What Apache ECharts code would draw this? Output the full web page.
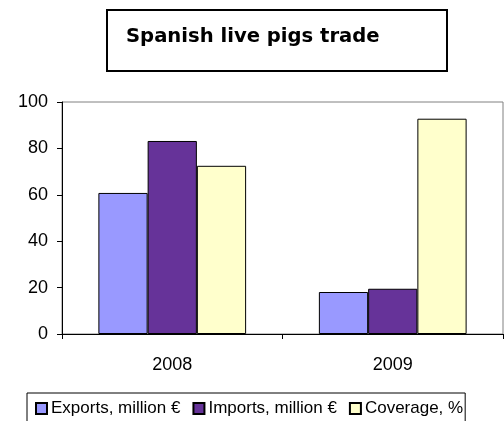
<!DOCTYPE html>
<html>
<head>
<meta charset="utf-8">
<script src="https://cdn.jsdelivr.net/npm/echarts@6/dist/echarts.min.js"></script>
<style>
  html, body { margin: 0; padding: 0; background: #fff; }
  #chart { width: 504px; height: 421px; }
</style>
</head>
<body>
<div id="chart"></div>
<script>
var years = ['2008', '2009'];
var exportsData = [60.8, 18.1];
var importsData = [83.2, 19.5];
var coverageData = [72.5, 92.8];
var seriesNames = ['Exports, million €', 'Imports, million €', 'Coverage, %'];
var seriesColors = ['#9999FF', '#663399', '#FFFFCC'];

var chart = echarts.init(document.getElementById('chart'));

function barSeries(i, data) {
  return {
    name: seriesNames[i],
    type: 'bar',
    data: data,
    barGap: '0%',
    barCategoryGap: '33%',
    itemStyle: {
      color: seriesColors[i],
      borderColor: '#000',
      borderWidth: 1
    },
    emphasis: { disabled: true }
  };
}

var option = {
  animation: false,
  backgroundColor: '#fff',
  title: {
    text: 'Spanish live pigs trade',
    left: 107,
    top: 10,
    padding: [17, 68, 24, 19],
    borderColor: '#000',
    borderWidth: 2,
    textStyle: {
      fontFamily: 'DejaVu Sans',
      fontWeight: 'bold',
      fontSize: 19.6,
      color: '#000'
    }
  },
  legend: {
    left: 27,
    top: 393,
    padding: [7, 2, 14, 8],
    itemGap: 12,
    itemWidth: 11,
    itemHeight: 11,
    icon: 'rect',
    borderColor: '#000',
    borderWidth: 1,
    borderRadius: 0,
    textStyle: {
      fontFamily: 'Liberation Sans',
      fontSize: 17,
      color: '#000',
      padding: [0, 0, 0, -1]
    },
    data: seriesNames
  },
  grid: {
    left: 62,
    right: 1,
    top: 102,
    bottom: 87,
    show: true,
    borderColor: '#808080',
    borderWidth: 1,
    containLabel: false
  },
  xAxis: {
    type: 'category',
    data: years,
    axisLine: { lineStyle: { color: '#000', width: 1 } },
    axisTick: { show: true, length: 5, lineStyle: { color: '#000' } },
    axisLabel: {
      fontFamily: 'Liberation Sans',
      fontSize: 18,
      color: '#000',
      margin: 22
    }
  },
  yAxis: {
    type: 'value',
    min: 0,
    max: 100,
    interval: 20,
    splitLine: { show: false },
    axisLine: { show: true, lineStyle: { color: '#000', width: 1 } },
    axisTick: { show: true, length: 5, lineStyle: { color: '#000' } },
    axisLabel: {
      fontFamily: 'Liberation Sans',
      fontSize: 18,
      color: '#000',
      margin: 14
    }
  },
  series: [
    barSeries(0, exportsData),
    barSeries(1, importsData),
    barSeries(2, coverageData)
  ]
};

chart.setOption(option);
</script>
</body>
</html>
